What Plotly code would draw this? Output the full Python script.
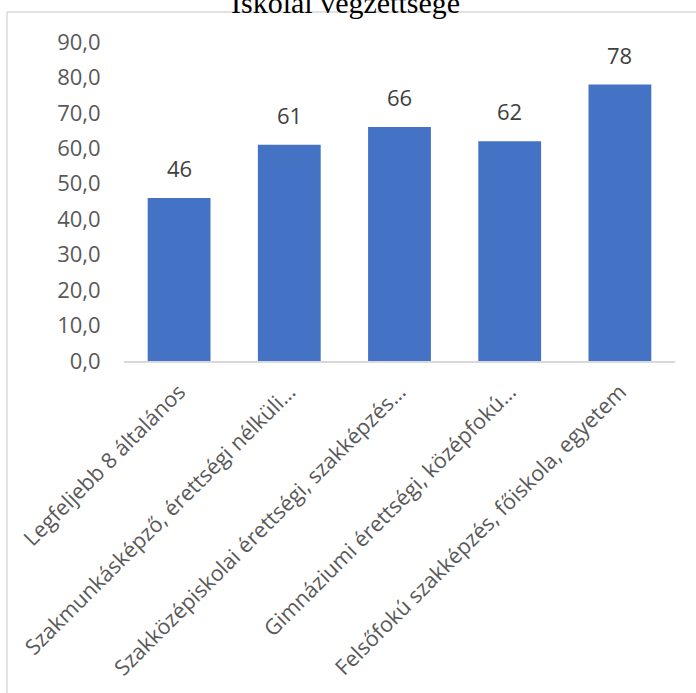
import plotly.graph_objects as go

title_text = "Iskolai végzettsége"
categories = [
    "Legfeljebb 8 általános",
    "Szakmunkásképző, érettségi nélküli…",
    "Szakközépiskolai érettségi, szakképzés…",
    "Gimnáziumi érettségi, középfokú…",
    "Felsőfokú szakképzés, főiskola, egyetem",
]
values = [46, 61, 66, 62, 78]
y_ticks = [0, 10, 20, 30, 40, 50, 60, 70, 80, 90]
y_tick_labels = ["0,0", "10,0", "20,0", "30,0", "40,0", "50,0", "60,0", "70,0", "80,0", "90,0"]

W, H = 696, 693
L, R, T, B = 124, 21, 42, 332
pw = W - L - R
ph = H - T - B

def px_x(x):
    return (x - L) / pw

def px_y(y):
    return (H - B - y) / ph

fig = go.Figure()
fig.add_trace(go.Bar(
    x=categories, y=values,
    marker=dict(color="#4472C4", line=dict(width=0)),
    hoverinfo="skip",
))

for c, v in zip(categories, values):
    fig.add_annotation(
        x=c, y=v, text=str(v), showarrow=False,
        xref="x", yref="y", yanchor="bottom", yshift=13,
        font=dict(family="Open Sans", size=22, color="#404040"),
    )

fig.add_annotation(
    x=px_x(345), y=px_y(3), xref="paper", yref="paper",
    text=title_text, showarrow=False, xanchor="center", yanchor="middle",
    font=dict(family="Liberation Serif", size=30, color="#000000"),
)

border = "#d9d9d9"
fig.add_shape(type="line", xref="paper", yref="paper",
              x0=px_x(7), x1=px_x(W + 5), y0=px_y(12), y1=px_y(12),
              line=dict(color=border, width=1.5))
fig.add_shape(type="line", xref="paper", yref="paper",
              x0=px_x(7), x1=px_x(7), y0=px_y(12), y1=px_y(H + 5),
              line=dict(color=border, width=1.5))

fig.update_layout(
    width=W, height=H,
    margin=dict(l=L, r=R, t=T, b=B, autoexpand=False),
    paper_bgcolor="white", plot_bgcolor="white",
    showlegend=False,
    bargap=0.43,
    font=dict(family="Open Sans", size=22, color="#595959"),
)
fig.update_xaxes(
    type="category", tickangle=-45, showgrid=False, automargin=False,
    showline=True, linecolor="#d9d9d9", linewidth=1.5,
    ticks="", ticklabelstandoff=8,
    tickfont=dict(family="Open Sans", size=21.5, color="#595959"),
)
fig.update_yaxes(
    range=[0, 90], tickvals=y_ticks, ticktext=y_tick_labels,
    showgrid=False, zeroline=False, showline=False, automargin=False,
    ticks="outside", ticklen=18, tickcolor="rgba(0,0,0,0)",
    tickfont=dict(family="Open Sans", size=22, color="#595959"),
)

fig.write_html(
    "out.html",
    config={"displayModeBar": False},
    post_script="document.body.style.margin='0';document.body.style.overflow='hidden';",
)
